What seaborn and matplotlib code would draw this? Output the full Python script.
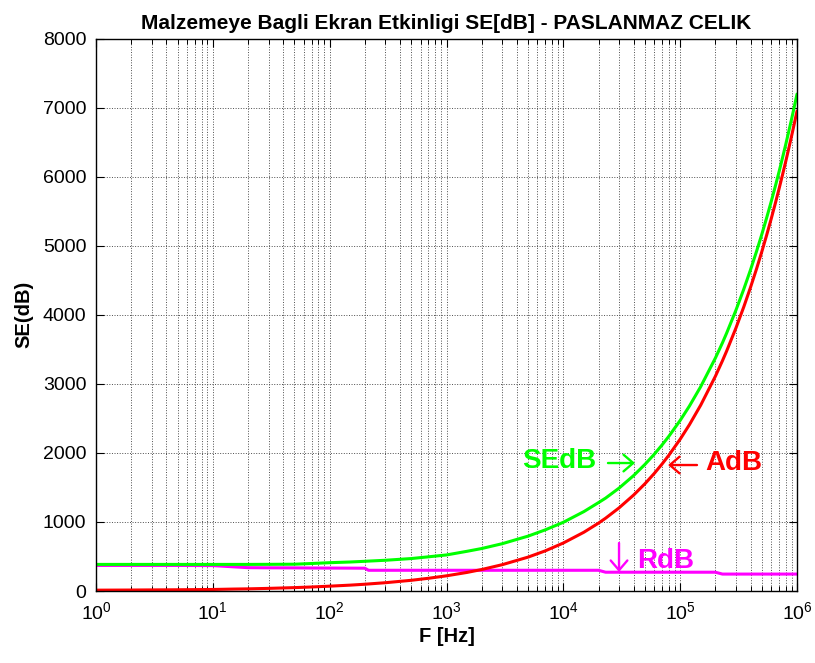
import numpy as np
import pandas as pd
import matplotlib
matplotlib.use("Agg")
import matplotlib.pyplot as plt
import seaborn as sns
from matplotlib.ticker import LogLocator, NullFormatter, FixedLocator

# ---- data ----
freq_hz = [1, 2, 5, 10, 15, 20, 30, 50, 70, 100, 150, 200, 215, 300, 500, 700,
           1e3, 1.5e3, 2e3, 3e3, 5e3, 7e3, 1e4, 1.5e4, 2e4, 2.3e4, 3e4, 4e4,
           5e4, 6e4, 7e4, 8e4, 1e5, 1.2e5, 1.5e5, 2e5, 2.3e5, 2.5e5, 3e5,
           3.5e5, 4e5, 4.5e5, 5e5, 5.5e5, 6e5, 6.5e5, 7e5, 7.5e5, 8e5, 8.5e5,
           9e5, 9.5e5, 1e6]
adb = [12, 14, 18, 22, 28, 31, 38, 49, 58, 70, 85, 98, 102, 120, 155, 184,
       220, 269, 311, 381, 491, 581, 695, 851, 983, 1054, 1204, 1390,
       1554, 1702, 1839, 1966, 2198, 2408, 2692, 3108, 3333, 3475, 3807,
       4112, 4396, 4662, 4914, 5154, 5383, 5603, 5815, 6019, 6216, 6408,
       6593, 6774, 6950]
rdb = [370, 370, 370, 368, 350, 338, 336, 335, 333, 332, 331, 330, 300, 300, 300, 300,
       300, 300, 300, 300, 300, 300, 300, 300, 300, 272, 272, 272,
       272, 272, 272, 272, 272, 272, 272, 272, 245, 245, 245,
       245, 245, 245, 245, 245, 245, 245, 245, 245, 245, 245,
       245, 245, 245]
sedb = [385, 385, 385, 385, 385, 385, 386, 388, 398, 410, 420, 430, 433, 445, 470, 495,
        522, 575, 615, 685, 795, 885, 995, 1150, 1280, 1345, 1490, 1672,
        1834, 1980, 2115, 2240, 2470, 2678, 2960, 3372, 3593, 3735, 4065,
        4368, 4650, 4915, 5165, 5404, 5632, 5851, 6062, 6266, 6462, 6654,
        6838, 7019, 7195]
series_names = ["RdB", "AdB", "SEdB"]
series_colors = {"RdB": "#ff00ff", "AdB": "#ff0000", "SEdB": "#00ff00"}
y_ticks = [0, 1000, 2000, 3000, 4000, 5000, 6000, 7000, 8000]

df = pd.concat([
    pd.DataFrame({"F": freq_hz, "val": rdb, "series": "RdB"}),
    pd.DataFrame({"F": freq_hz, "val": adb, "series": "AdB"}),
    pd.DataFrame({"F": freq_hz, "val": sedb, "series": "SEdB"}),
], ignore_index=True)

sns.set_style("ticks")
plt.rcParams["font.family"] = ["Liberation Sans", "DejaVu Sans"]
plt.rcParams["mathtext.fontset"] = "custom"
plt.rcParams["mathtext.rm"] = "Liberation Sans"
for k in ["text.color", "axes.labelcolor", "xtick.color", "ytick.color"]:
    plt.rcParams[k] = "black"

fig = plt.figure(figsize=(8.15, 6.63), dpi=100)
ax = fig.add_axes([96 / 815, 1 - 591 / 663, 701 / 815, (591 - 38.5) / 663])

for name in series_names:
    sns.lineplot(data=df[df["series"] == name], x="F", y="val", color=series_colors[name],
                 lw=2.2, ax=ax, estimator=None, sort=False, legend=False)

ax.set_xscale("log")
ax.set_xlim(1, 1e6)
ax.set_ylim(0, 8000)
ax.yaxis.set_major_locator(FixedLocator(y_ticks))
ax.xaxis.set_major_locator(LogLocator(base=10, numticks=10))
ax.xaxis.set_minor_locator(LogLocator(base=10, subs=np.arange(2, 10), numticks=20))
ax.xaxis.set_minor_formatter(NullFormatter())

ax.grid(True, which="major", axis="both", color="0.3", linestyle=":", linewidth=0.7)
ax.grid(True, which="minor", axis="x", color="0.3", linestyle=":", linewidth=0.7)

ax.tick_params(which="major", direction="in", length=6, width=0.8, top=True, right=True,
               labelsize=14, pad=7, color="black", labelcolor="black")
ax.tick_params(which="minor", direction="in", length=3.5, width=0.7, top=True, right=True,
               color="black")
for s in ax.spines.values():
    s.set_color("black")
    s.set_linewidth(1.0)

ax.set_xlabel("F [Hz]", fontsize=14.5, fontweight="bold", labelpad=3, color="black")
ax.set_ylabel("SE(dB)", fontsize=14.5, fontweight="bold", labelpad=7, color="black")
ax.set_title("Malzemeye Bagli Ekran Etkinligi SE[dB] - PASLANMAZ CELIK",
             fontsize=15, fontweight="bold", pad=7, color="black")

arrow_kw = dict(arrowstyle="->,head_length=0.35,head_width=0.3", lw=1.7,
                shrinkA=0, shrinkB=0, mutation_scale=20)
ax.text(4430, 1882, "SEdB", color="#00ff00", fontsize=20, fontweight="bold",
        ha="left", va="center")
ax.annotate("", xy=(41100, 1853), xytext=(24100, 1853),
            arrowprops=dict(color="#00ff00", **arrow_kw))
ax.annotate("", xy=(78700, 1824), xytext=(139300, 1824),
            arrowprops=dict(color="#ff0000", **arrow_kw))
ax.text(163000, 1853, "AdB", color="#ff0000", fontsize=20, fontweight="bold",
        ha="left", va="center")
ax.annotate("", xy=(29970, 275), xytext=(29970, 695),
            arrowprops=dict(color="#ff00ff", **arrow_kw))
ax.text(42700, 434, "RdB", color="#ff00ff", fontsize=20, fontweight="bold",
        ha="left", va="center")

fig.savefig("out.png", dpi=100)
